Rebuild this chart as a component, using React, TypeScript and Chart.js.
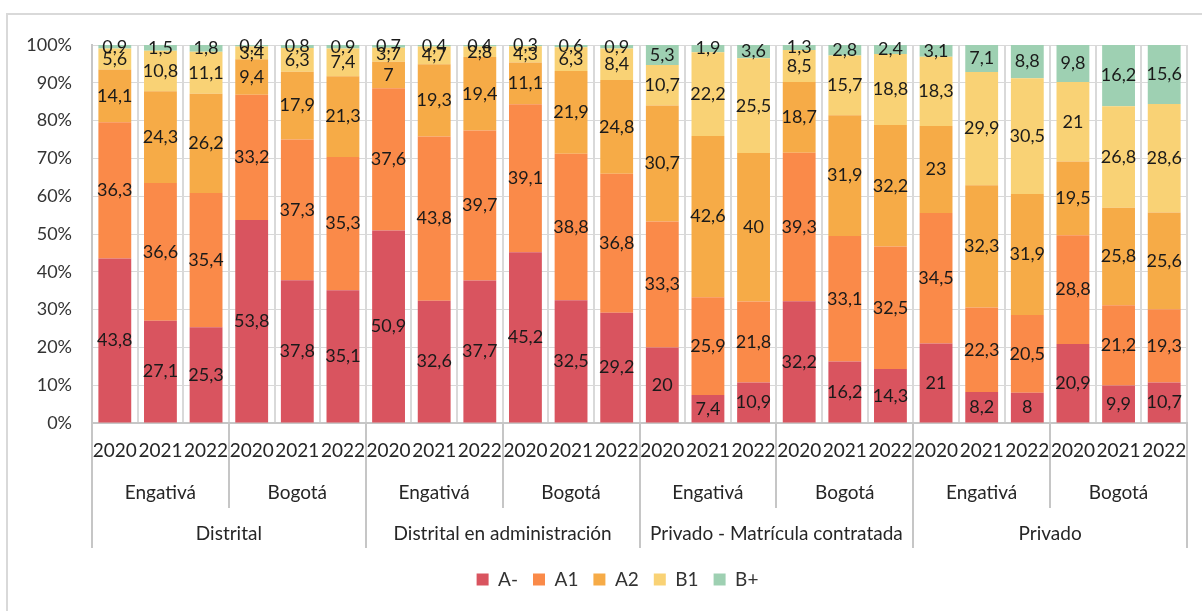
import React, { useEffect, useRef } from "react";
import { Chart, registerables } from "chart.js";

Chart.register(...registerables);

const FONT = "Lato, 'Open Sans', sans-serif";

const years = ["2020", "2021", "2022"];
const places = ["Engativá", "Bogotá"];
const sectors = [
  "Distrital",
  "Distrital en administración",
  "Privado - Matrícula contratada",
  "Privado",
];
const yTickLabels = ["0%", "10%", "20%", "30%", "40%", "50%", "60%", "70%", "80%", "90%", "100%"];

const levelNames = ["A-", "A1", "A2", "B1", "B+"];
const aMinus = [43.8, 27.1, 25.3, 53.8, 37.8, 35.1, 50.9, 32.6, 37.7, 45.2, 32.5, 29.2, 20, 7.4, 10.9, 32.2, 16.2, 14.3, 21, 8.2, 8, 20.9, 9.9, 10.7];
const a1 = [36.3, 36.6, 35.4, 33.2, 37.3, 35.3, 37.6, 43.8, 39.7, 39.1, 38.8, 36.8, 33.3, 25.9, 21.8, 39.3, 33.1, 32.5, 34.5, 22.3, 20.5, 28.8, 21.2, 19.3];
const a2 = [14.1, 24.3, 26.2, 9.4, 17.9, 21.3, 7, 19.3, 19.4, 11.1, 21.9, 24.8, 30.7, 42.6, 40, 18.7, 31.9, 32.2, 23, 32.3, 31.9, 19.5, 25.8, 25.6];
const b1 = [5.6, 10.8, 11.1, 3.4, 6.3, 7.4, 3.7, 4.7, 2.8, 4.3, 6.3, 8.4, 10.7, 22.2, 25.5, 8.5, 15.7, 18.8, 18.3, 29.9, 30.5, 21, 26.8, 28.6];
const bPlus = [0.9, 1.5, 1.8, 0.4, 0.8, 0.9, 0.7, 0.4, 0.4, 0.3, 0.6, 0.9, 5.3, 1.9, 3.6, 1.3, 2.8, 2.4, 3.1, 7.1, 8.8, 9.8, 16.2, 15.6];

const seriesValues = [aMinus, a1, a2, b1, bPlus];
const seriesColors = ["#d9545f", "#fa8a49", "#f6ab47", "#f9d275", "#9ed0b2"];

// category labels (year of each bar)
const categories: string[] = sectors.flatMap(() => places.flatMap(() => years));

const totals = categories.map((_, i) => seriesValues.reduce((s, arr) => s + arr[i], 0));

const fmt = (v: number) => String(v).replace(".", ",");

const borderPlugin = {
  id: "outerBorder",
  beforeDraw(chart: any) {
    const { ctx } = chart;
    ctx.save();
    ctx.strokeStyle = "#d9d9d9";
    ctx.lineWidth = 2;
    ctx.strokeRect(7, 14, 1210, 620);
    ctx.restore();
  },
};

const legendShiftPlugin = {
  id: "legendShift",
  afterLayout(chart: any) {
    if (chart.legend) {
      chart.legend.left += 20;
      chart.legend.right += 20;
      chart.legend.top -= 2;
      chart.legend.bottom -= 2;
    }
  },
};

const dataLabelPlugin = {
  id: "dataLabels",
  afterDatasetsDraw(chart: any) {
    const { ctx } = chart;
    ctx.save();
    ctx.font = `18px ${FONT}`;
    ctx.fillStyle = "#1a1a1a";
    ctx.textAlign = "center";
    ctx.textBaseline = "middle";
    chart.data.datasets.forEach((ds: any, di: number) => {
      const meta = chart.getDatasetMeta(di);
      meta.data.forEach((bar: any, i: number) => {
        const { x, y, base } = bar.getProps(["x", "y", "base"], true);
        ctx.fillText(fmt(seriesValues[di][i]), x, (y + base) / 2);
      });
    });
    ctx.restore();
  },
};

const multiAxisPlugin = {
  id: "multiAxis",
  afterDraw(chart: any) {
    const { ctx, chartArea } = chart;
    const x = chart.scales.x;
    const n = categories.length;
    const step = (chartArea.right - chartArea.left) / n;
    const y0 = chartArea.bottom;
    ctx.save();
    ctx.font = `19px ${FONT}`;
    ctx.fillStyle = "#262626";
    ctx.textAlign = "center";
    ctx.textBaseline = "middle";
    categories.forEach((c, i) => {
      ctx.fillText(c, x.getPixelForValue(i), y0 + 28);
    });
    const nPlaces = sectors.length * places.length;
    for (let g = 0; g < nPlaces; g++) {
      const cx = (x.getPixelForValue(g * 3) + x.getPixelForValue(g * 3 + 2)) / 2;
      ctx.fillText(places[g % places.length], cx, y0 + 70);
    }
    sectors.forEach((s, si) => {
      const cx = (x.getPixelForValue(si * 6) + x.getPixelForValue(si * 6 + 5)) / 2;
      ctx.fillText(s, cx, y0 + 111);
    });
    ctx.strokeStyle = "#c6c6c6";
    ctx.lineWidth = 2;
    for (let i = 0; i <= n; i += 3) {
      const bx = Math.round(chartArea.left + i * step);
      const len = i % 6 === 0 ? 125 : 85;
      ctx.beginPath();
      ctx.moveTo(bx, y0);
      ctx.lineTo(bx, y0 + len);
      ctx.stroke();
    }
    ctx.restore();
  },
};

export default function App() {
  const canvasRef = useRef<HTMLCanvasElement | null>(null);

  useEffect(() => {
    if (!canvasRef.current) return;
    const chart = new Chart(canvasRef.current, {
      type: "bar",
      data: {
        labels: categories,
        datasets: levelNames.map((name, di) => ({
          label: name,
          data: seriesValues[di].map((v, i) => (v / totals[i]) * 100),
          backgroundColor: seriesColors[di],
          borderWidth: 0,
          barPercentage: 0.72,
          categoryPercentage: 1,
        })),
      },
      options: {
        animation: false,
        responsive: true,
        maintainAspectRatio: false,
        layout: { padding: { left: 8, right: 15, top: 45, bottom: 10 } },
        plugins: {
          legend: {
            position: "bottom",
            labels: {
              boxWidth: 12,
              boxHeight: 12,
              padding: 15,
              color: "#333333",
              font: { family: FONT, size: 19 },
            },
          },
          tooltip: { enabled: false },
        },
        scales: {
          x: {
            stacked: true,
            grid: { offset: true, color: "#d9d9d9", lineWidth: 2, drawTicks: false },
            border: { display: true, color: "#c6c6c6", width: 2 },
            ticks: { display: false },
            afterFit: (scale: any) => {
              scale.height = 134;
            },
          },
          y: {
            stacked: true,
            min: 0,
            max: 100,
            grid: { color: "#d9d9d9", lineWidth: 1, drawTicks: false },
            border: { display: true, color: "#c6c6c6", width: 2 },
            ticks: {
              stepSize: 10,
              padding: 20,
              color: "#333333",
              font: { family: FONT, size: 18 },
              callback: (v: any) => yTickLabels[Math.round(Number(v) / 10)],
            },
            afterFit: (scale: any) => {
              scale.width = 84;
            },
          },
        },
      },
      plugins: [borderPlugin, legendShiftPlugin, dataLabelPlugin, multiAxisPlugin],
    });
    return () => chart.destroy();
  }, []);

  return (
    <div style={{ position: "absolute", left: 0, top: 0, width: 1202, height: 611 }}>
      <canvas ref={canvasRef} />
    </div>
  );
}
